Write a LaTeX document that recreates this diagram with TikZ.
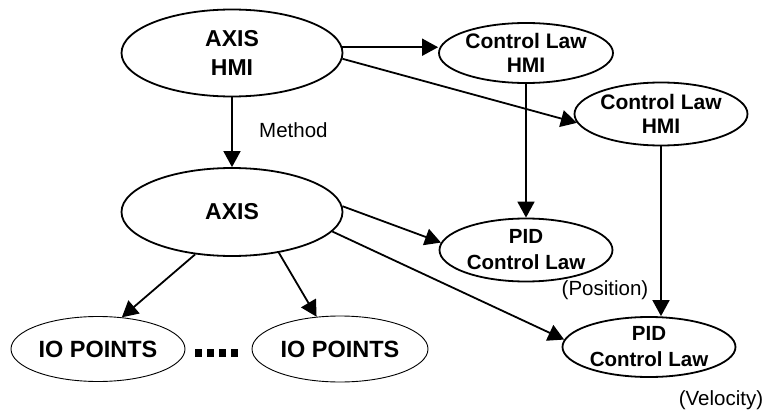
\documentclass[tikz,border=0pt]{standalone}
\usepackage{fontspec}
\setmainfont{Liberation Sans}
\usetikzlibrary{shapes.geometric,arrows.meta}
\tikzset{
  ell/.style={draw, ellipse, line width=1.8pt, inner sep=0pt, align=center},
  bigtxt/.style={font=\bfseries\fontsize{23}{29}\selectfont},
  cltxt/.style={font=\bfseries\fontsize{21}{24.5}\selectfont},
  pidtxt/.style={font=\bfseries\fontsize{20.5}{26}\selectfont},
  iotxt/.style={font=\bfseries\fontsize{23.5}{28}\selectfont},
  lbl/.style={font=\fontsize{20.5}{24}\selectfont, inner sep=0pt},
  arr/.style={line width=1.8pt, -{Triangle[length=16pt,width=17pt]}},
  dotrow/.style={line width=8pt, dash pattern=on 7pt off 5pt}
}
\begin{document}
\begin{tikzpicture}[x=1pt,y=-1pt]
\useasboundingbox (0,0) rectangle (766,412);
\node[ell, bigtxt, minimum width=221pt, minimum height=87pt] (ahmi) at (232,53) {AXIS\\HMI};
\node[ell, bigtxt, minimum width=221pt, minimum height=88pt] (axis) at (232,212) {AXIS};
\node[ell, cltxt, minimum width=174pt, minimum height=60pt] (cl1) at (526,53) {Control Law\\HMI};
\node[ell, cltxt, minimum width=173pt, minimum height=63pt] (cl2) at (661,114) {Control Law\\HMI};
\node[ell, pidtxt, minimum width=173pt, minimum height=63pt] (pid1) at (526,250) {PID\\Control Law};
\node[ell, pidtxt, minimum width=173pt, minimum height=60pt] (pid2) at (649,347) {PID\\Control Law};
\node[ell, iotxt, line width=0.9pt, minimum width=174pt, minimum height=65pt] (io1) at (98,349) {IO POINTS};
\node[ell, iotxt, line width=0.9pt, minimum width=176pt, minimum height=66pt] (io2) at (340,349) {IO POINTS};
\node[lbl, anchor=west] (meth) at (259,130) {Method};
\node[lbl] (pos) at (605,290) {(Position)};
\node[lbl] (vel) at (721,400) {(Velocity)};
\draw[arr] (ahmi.3) -- (ahmi.3 -| cl1.west);
\draw[arr] (ahmi.-3) -- (cl2.186);
\draw[arr] (ahmi.south) -- (axis.north);
\draw[arr] (cl1.south) -- (pid1.north);
\draw[arr] (cl2.south) -- (cl2.south |- pid2.north);
\draw[arr] (axis.3) -- (pid1.175);
\draw[arr] (axis.-11) -- (pid2.175);
\draw[arr] (axis.229) -- (io1.53);
\draw[arr] (axis.-41) -- (io2.126);
\draw[dotrow] (195,353) -- (238,353);
\end{tikzpicture}
\end{document}
